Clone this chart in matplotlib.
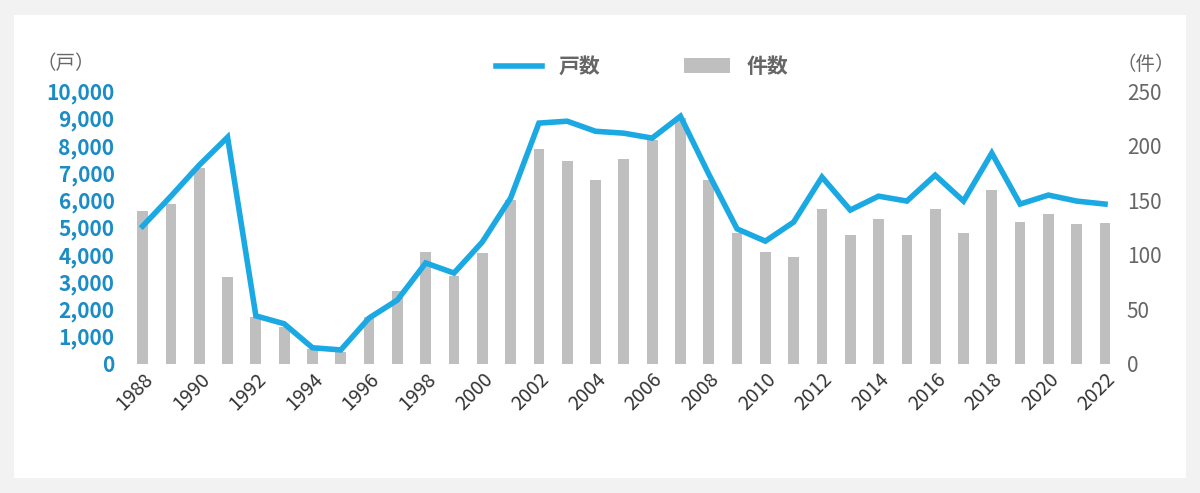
import matplotlib.pyplot as plt
import numpy as np
from matplotlib.patches import Rectangle

plt.rcParams['font.family'] = ['Noto Sans CJK JP', 'DejaVu Sans']

years = list(range(1988, 2023))
households = [5050, 6150, 7290, 8310, 1760, 1470, 590, 510, 1680, 2340,
              3700, 3330, 4470, 6080, 8830, 8900, 8530, 8460, 8280, 9080,
              6960, 4950, 4500, 5200, 6850, 5640, 6150, 5970, 6920, 5970,
              7730, 5860, 6190, 5970, 5860]
cases = [140, 147, 180, 80, 43, 34, 14, 11, 43, 67,
         103, 81, 102, 150, 197, 186, 169, 188, 205, 225,
         169, 120, 103, 98, 142, 118, 133, 118, 142, 120,
         159, 130, 137, 128, 129]

blue = '#1aa9e3'
tick_blue = '#1a8cc6'
gray_bar = '#bfbfbf'
gray_txt = '#666666'

fig = plt.figure(figsize=(12, 4.93), dpi=100)
fig.patch.set_facecolor('#f2f2f2')
fig.patches.append(Rectangle((0.012, 0.03), 0.976, 0.94, transform=fig.transFigure,
                             facecolor='white', edgecolor='none', zorder=-10))

ax2 = fig.add_axes([0.1, 0.262, 0.835, 0.553])
ax = ax2.twinx()
ax2.yaxis.tick_right()
ax.yaxis.tick_left()
ax2.patch.set_alpha(0)
ax.patch.set_alpha(0)

x = np.arange(len(years))
ax2.bar(x, cases, width=0.38, color=gray_bar, label='件数')
ax.plot(x, households, color=blue, lw=4, label='戸数', solid_joinstyle='miter')

ax.set_ylim(0, 10000)
ax2.set_ylim(0, 250)
ax.set_xlim(-0.8, len(years) - 0.4)
ax.set_yticks(range(0, 10001, 1000))
ax.set_yticklabels([f'{v:,}' for v in range(0, 10001, 1000)],
                   color=tick_blue, fontsize=15, fontweight='bold')
ax2.set_yticks(range(0, 251, 50))
ax2.set_yticklabels([str(v) for v in range(0, 251, 50)], color=gray_txt, fontsize=15)
ax2.set_xticks(x[::2])
ax2.set_xticklabels([str(y) for y in years[::2]], rotation=45, ha='right',
                    rotation_mode='anchor', fontsize=14, color='#333333')

for a in (ax, ax2):
    for s in a.spines.values():
        s.set_visible(False)
    a.tick_params(length=0)
ax.tick_params(axis='y', pad=4)

fig.text(0.055, 0.87, '（戸）', fontsize=14, color=gray_txt, ha='center', va='center')
fig.text(0.955, 0.87, '（件）', fontsize=14, color=gray_txt, ha='center', va='center')

h1, l1 = ax.get_legend_handles_labels()
h2, l2 = ax2.get_legend_handles_labels()
fig.legend(h1 + h2, l1 + l2, loc='center', bbox_to_anchor=(0.535, 0.865), ncol=2,
           frameon=False, prop={'size': 15, 'weight': 'bold'}, handlelength=2.2,
           columnspacing=4, labelcolor=gray_txt)

fig.savefig('out.png', dpi=100, facecolor=fig.get_facecolor())
